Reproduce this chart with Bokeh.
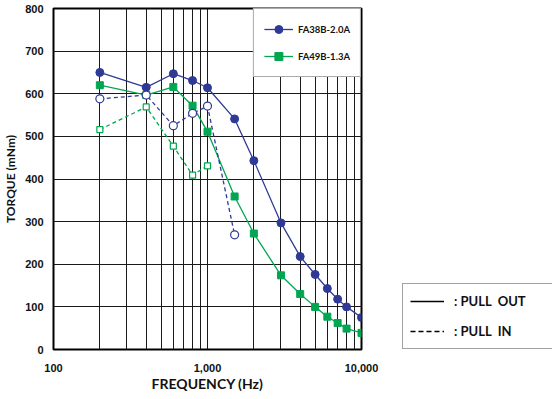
from bokeh.plotting import figure
from bokeh.layouts import row
from bokeh.models import (Range1d, FixedTicker, Legend, LegendItem, ColumnDataSource)
from bokeh.embed import file_html
from bokeh.resources import INLINE

# ---- data ----
freq_out = [200, 400, 600, 800, 1000, 1500, 2000, 3000, 4000, 5000, 6000, 7000, 8000, 10000]
fa38_out = [650, 615, 647, 631, 614, 541, 443, 297, 218, 176, 143, 118, 100, 75]
fa49_out = [620, 597, 616, 572, 511, 359, 272, 174, 130, 100, 77, 62, 49, 39]

freq38_in = [200, 400, 600, 800, 1000, 1500]
fa38_in = [588, 597, 525, 554, 571, 269]
freq49_in = [200, 400, 600, 800, 1000]
fa49_in = [516, 569, 477, 409, 431]

x_ticks = [100, 1000, 10000]
x_tick_labels = {100: "100", 1000: "1,000", 10000: "10,000"}
x_grid = [100, 200, 300, 400, 500, 600, 700, 800, 900,
          1000, 2000, 3000, 4000, 5000, 6000, 7000, 8000, 9000, 10000]
y_ticks = [0, 100, 200, 300, 400, 500, 600, 700, 800]

series_names = ["FA38B-2.0A", "FA49B-1.3A"]
style_names = [": PULL  OUT", ": PULL  IN"]

BLUE = "#2E3A96"
GREEN = "#00A651"

p = figure(frame_width=308, frame_height=341, x_axis_type="log",
           x_range=Range1d(100, 10000), y_range=Range1d(0, 800),
           output_backend="svg", toolbar_location=None,
           min_border_left=49, min_border_top=8, min_border_bottom=47,
           min_border_right=22)
p.background_fill_color = "white"
p.outline_line_color = "black"
p.outline_line_width = 2

# axes
p.xaxis.ticker = FixedTicker(ticks=x_ticks)
p.xaxis.major_label_overrides = x_tick_labels
p.yaxis.ticker = FixedTicker(ticks=y_ticks)
for ax in (p.xaxis[0], p.yaxis[0]):
    ax.axis_line_color = None
    ax.major_tick_line_color = None
    ax.minor_tick_line_color = None
    ax.major_tick_out = 0
    ax.major_tick_in = 0
    ax.minor_tick_out = 0
    ax.minor_tick_in = 0
    ax.major_label_text_font = "Liberation Sans"
    ax.major_label_text_font_style = "bold"
    ax.major_label_text_font_size = "11px"
    ax.major_label_text_color = "#111"
    ax.axis_label_text_font = "Lato"
    ax.axis_label_text_font_style = "bold"
    ax.axis_label_text_color = "#111"
p.xaxis.major_label_standoff = 14
p.yaxis.major_label_standoff = 10
p.xaxis.axis_label = "FREQUENCY (Hz)"
p.xaxis.axis_label_text_font_size = "14px"
p.xaxis.axis_label_standoff = 0
p.yaxis.axis_label = "TORQUE (mNm)"
p.yaxis.axis_label_text_font_size = "12px"
p.yaxis.axis_label_standoff = 4

# grids
p.xgrid.ticker = FixedTicker(ticks=x_grid)
p.ygrid.ticker = FixedTicker(ticks=y_ticks)
for g in (p.xgrid[0], p.ygrid[0]):
    g.grid_line_color = "#1a1a1a"
    g.grid_line_width = 1
    g.grid_line_alpha = 1

# data
l38 = p.line(freq_out, fa38_out, line_color=BLUE, line_width=1.3)
s38 = p.scatter(freq_out, fa38_out, marker="circle", size=8, fill_color=BLUE, line_color=BLUE)
l49 = p.line(freq_out, fa49_out, line_color=GREEN, line_width=1.3)
s49 = p.scatter(freq_out, fa49_out, marker="square", size=7, fill_color=GREEN, line_color=GREEN)

p.line(freq38_in, fa38_in, line_color=BLUE, line_width=1.3, line_dash="4 3")
p.scatter(freq38_in, fa38_in, marker="circle", size=8, fill_color="white", line_color=BLUE, line_width=1.2)
p.line(freq49_in, fa49_in, line_color=GREEN, line_width=1.3, line_dash="4 3")
p.scatter(freq49_in, fa49_in, marker="square", size=6, fill_color="white", line_color=GREEN, line_width=1.2)

# series legend (inside, top right)
leg1 = Legend(items=[LegendItem(label=series_names[0], renderers=[l38, s38]),
                     LegendItem(label=series_names[1], renderers=[l49, s49])],
              location="top_right", margin=0, padding=10, spacing=7,
              glyph_width=29, glyph_height=20, label_height=20, label_standoff=5,
              label_text_font="Lato", label_text_font_style="bold",
              label_text_font_size="9.5px", label_text_color="#111",
              border_line_color="#555", border_line_width=1,
              background_fill_color="white", background_fill_alpha=1)
p.add_layout(leg1, "center")

# line style legend in a blank side figure (outside the plot, bottom right)
p2 = figure(width=169, height=396, x_range=Range1d(0, 1), y_range=Range1d(0, 1),
            output_backend="svg", toolbar_location=None,
            x_axis_location=None, y_axis_location=None,
            min_border=0, min_border_left=0, min_border_right=0,
            min_border_top=0, min_border_bottom=0)
p2.outline_line_color = None
p2.xgrid.visible = False
p2.ygrid.visible = False
nan = float("nan")
src_empty = ColumnDataSource(data=dict(x=[nan, nan], y=[nan, nan]))
r_solid = p2.line("x", "y", source=src_empty, line_color="black", line_width=1.5)
r_dash = p2.line("x", "y", source=src_empty, line_color="black", line_width=1.5, line_dash="5 3")
leg2 = Legend(items=[LegendItem(label=style_names[0], renderers=[r_solid]),
                     LegendItem(label=style_names[1], renderers=[r_dash])],
              location=(19, 0), margin=0, padding=7, spacing=10,
              glyph_width=34, glyph_height=20, label_height=20, label_width=95,
              label_standoff=10,
              label_text_font="Lato", label_text_font_style="bold",
              label_text_font_size="13px", label_text_color="#111",
              border_line_color="#444", border_line_width=1,
              background_fill_color="white", background_fill_alpha=1)
p2.add_layout(leg2, "center")

layout = row(p, p2, spacing=0)
open("out.html", "w").write(file_html(layout, INLINE))
